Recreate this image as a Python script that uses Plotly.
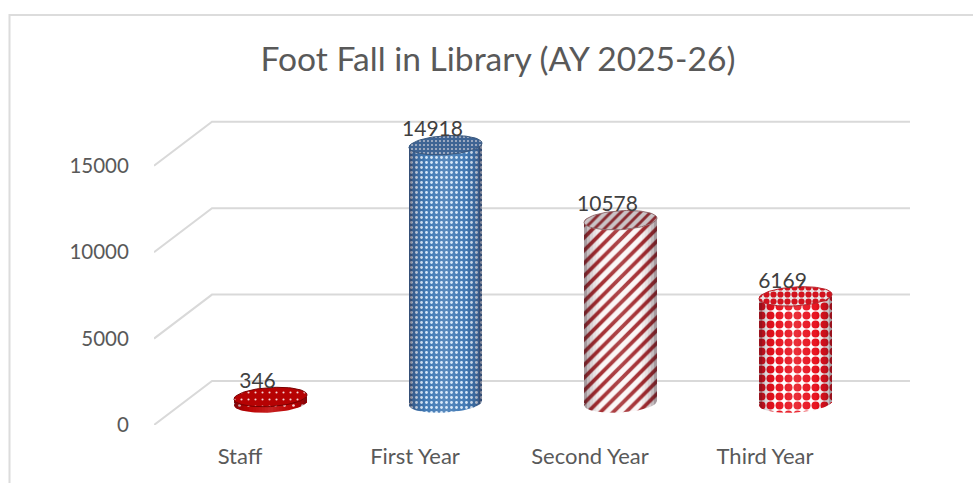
import numpy as np
import plotly.graph_objects as go

title = "Foot Fall in Library (AY 2025-26)"
categories = ["Staff", "First Year", "Second Year", "Third Year"]
values = [346, 14918, 10578, 6169]
y_ticks = [0, 5000, 10000, 15000]

W, H = 973, 483
L, R, T, B = 154, 910, 95, 425          # plot box in pixels
PX_PER_UNIT = 0.01728                   # vertical px per value unit
PX_PER_CAT = 175.0
BACK_X = 212
DEPTH_PX = 22                           # half of the floor's vertical depth
BAR_W_PX = 73
ELL_RY_PX = 9.5
LABEL_SHIFT_PX = 30.5                   # bars sit right of their category label
FIRST_LABEL_X = 240
TILT = 0.22

styles = [
    dict(shape=".", bg="#bd0000", fg="#ffe0e0", size=9, sol=0.07, edge="#7a0000", cap=0.05),
    dict(shape=".", bg="#3f78b4", fg="#d6e8fa", size=5, sol=0.24, edge="#3a5f88", cap=0.25),
    dict(shape="/", bg="#fbf7f7", fg="#a32c30", size=9, sol=0.42, edge="#a0787a", cap=0.25),
    dict(shape=".", bg="#ffffff", fg="#e8101c", size=9, sol=0.62, edge="#c02028", cap=0.12),
]

FONT = "Lato, Carlito, Calibri, sans-serif"
GRID = "#d9d9d9"

u = 1 / PX_PER_UNIT                      # value units per px
c = 1 / PX_PER_CAT                       # category units per px
depth = DEPTH_PX * u
half_w = BAR_W_PX / 2 * c
ry = ELL_RY_PX * u

fig = go.Figure()

x_range = [(L - FIRST_LABEL_X) * c, (R - FIRST_LABEL_X) * c]
x2_range = [(L - (FIRST_LABEL_X + LABEL_SHIFT_PX)) * c, (R - (FIRST_LABEL_X + LABEL_SHIFT_PX)) * c]

# Floor/back-wall grid on the base subplot, so the bars in the overlay sit above it
x_front, x_back, x_right = x_range[0], x_range[0] + (BACK_X - L) * c, x_range[1]
gx, gy = [], []
for v in y_ticks:
    gx += [x_front, x_back, x_right, None]
    gy += [v, v + 2 * depth, v + 2 * depth, None]
fig.add_trace(go.Scatter(x=gx, y=gy, mode="lines",
                         line=dict(color=GRID, width=2), hoverinfo="skip", showlegend=False))

t = np.linspace(0, 2 * np.pi, 73)


def ellipse_y(level, th):
    return level + ry * np.sin(th) + TILT * ry * np.cos(th)


for i, (v, s) in enumerate(zip(values, styles)):
    pat = dict(shape=s["shape"], size=s["size"], solidity=s["sol"],
               fgcolor=s["fg"], bgcolor=s["bg"], fgopacity=1)
    # base ellipse
    fig.add_trace(go.Scatter(x=i + half_w * np.cos(t), y=ellipse_y(0, t), mode="lines",
                             fill="toself", fillcolor=s["bg"], fillpattern=pat, xaxis="x2", yaxis="y2",
                             line=dict(width=0, color=s["bg"]), hoverinfo="skip", showlegend=False))
    # body
    fig.add_trace(go.Bar(x=[i], y=[v], width=[BAR_W_PX * c], xaxis="x2", yaxis="y2",
                         marker=dict(color=s["bg"], pattern=pat, line=dict(width=0)),
                         hoverinfo="skip", showlegend=False))
    # cylindrical edge shading and soft centre highlight
    edges = np.linspace(-1, 1, 25)
    for a, b in zip(edges[:-1], edges[1:]):
        m = abs((a + b) / 2)
        dark = 0.5 * m ** 5
        light = 0.14 * (1 - m) ** 2
        fill = f"rgba(40,20,30,{dark:.3f})" if dark >= light else f"rgba(255,255,255,{light:.3f})"
        xs = np.linspace(a, b, 3)
        th = np.arccos(np.clip(xs, -1, 1))
        lower = -ry * np.sin(th) + TILT * ry * xs
        px = np.r_[i + half_w * xs, i + half_w * xs[::-1]]
        py = np.r_[lower, v + TILT * ry * xs[::-1]]
        fig.add_trace(go.Scatter(x=px, y=py, mode="lines", fill="toself", fillcolor=fill,
                                 xaxis="x2", yaxis="y2", line=dict(width=0),
                                 hoverinfo="skip", showlegend=False))
    # top ellipse: patterned cap, slightly darker
    top_pat = dict(pat)
    top_pat["size"] = max(4, s["size"] - 2)
    fig.add_trace(go.Scatter(x=i + half_w * np.cos(t), y=ellipse_y(v, t),
                             mode="lines", fill="toself", fillcolor=s["bg"], fillpattern=top_pat,
                             xaxis="x2", yaxis="y2", line=dict(width=1, color=s["edge"]),
                             hoverinfo="skip", showlegend=False))
    fig.add_trace(go.Scatter(x=i + half_w * np.cos(t), y=ellipse_y(v, t),
                             mode="lines", fill="toself", fillcolor=f"rgba(60,40,50,{s['cap']})",
                             xaxis="x2", yaxis="y2", line=dict(width=0),
                             hoverinfo="skip", showlegend=False))

# Data labels
fig.add_trace(go.Scatter(x=[i - 13 * c for i in range(len(values))],
                         y=[v + 14 * u for v in values],
                         text=[str(v) for v in values], mode="text", textposition="middle center",
                         textfont=dict(family=FONT, size=21, color="#404040"),
                         xaxis="x2", yaxis="y2", hoverinfo="skip", showlegend=False))

fig.update_layout(
    width=W, height=H, autosize=False,
    margin=dict(l=L, r=W - R, t=T, b=H - B, pad=0),
    paper_bgcolor="white", plot_bgcolor="white",
    showlegend=False, barmode="overlay",
    title=dict(text=title, x=(498 - L) / (R - L), xref="paper", xanchor="center",
               y=1 - 59 / H, yref="container", yanchor="middle",
               font=dict(family=FONT, size=33.6, color="#595959")),
    xaxis=dict(range=x_range,
               tickmode="array", tickvals=list(range(len(categories))), ticktext=categories,
               showgrid=False, zeroline=False, showline=False,
               ticks="outside", ticklen=12, tickcolor="rgba(0,0,0,0)",
               tickfont=dict(family=FONT, size=22, color="#595959")),
    yaxis=dict(range=[0, (B - T) * u], tickmode="array", tickvals=y_ticks,
               ticktext=[str(v) for v in y_ticks],
               showgrid=False, zeroline=False, showline=False,
               ticks="outside", ticklen=20, tickcolor="rgba(0,0,0,0)",
               tickfont=dict(family=FONT, size=20.5, color="#595959")),
    xaxis2=dict(range=x2_range, overlaying="x", visible=False),
    yaxis2=dict(range=[-(B - 403) * u, (403 - T) * u], overlaying="y", visible=False),
    shapes=[dict(type="rect", xref="paper", yref="paper",
                 x0=(9.5 - L) / (R - L), x1=(W + 20 - L) / (R - L),
                 y0=(B - (H + 100)) / (B - T), y1=(B - 15) / (B - T),
                 line=dict(color="#dcdcdc", width=2), fillcolor="rgba(0,0,0,0)", layer="below")],
)

fig.write_html("out.html", config={"displayModeBar": False},
               post_script="document.body.style.margin='0';document.body.style.overflow='hidden';")
